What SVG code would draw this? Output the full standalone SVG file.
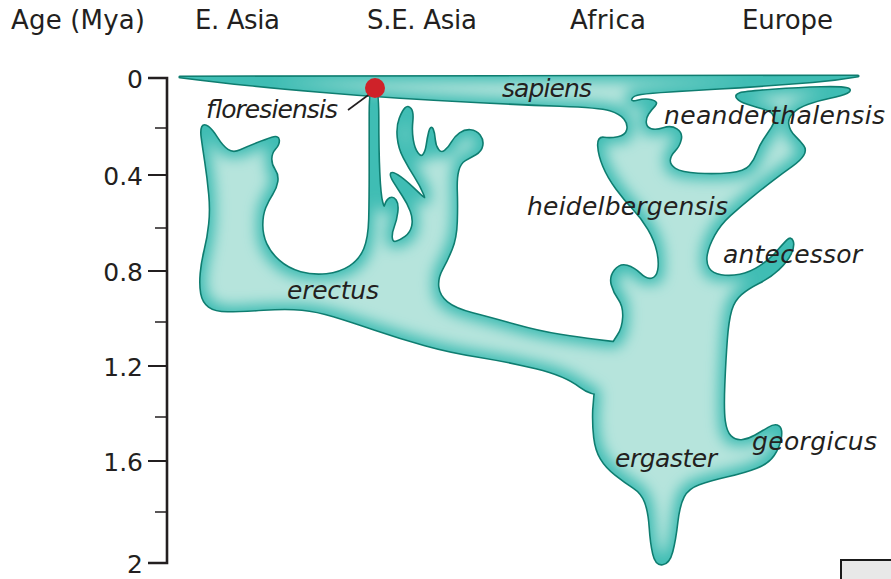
<svg xmlns="http://www.w3.org/2000/svg" xmlns:xlink="http://www.w3.org/1999/xlink" width="891" height="579" viewBox="0 0 891 579">
<style>
.hdr{font-family:"DejaVu Sans","Liberation Sans",sans-serif;font-size:26px;fill:#231f20}
.num{font-family:"DejaVu Sans","Liberation Sans",sans-serif;font-size:25px;fill:#231f20;text-anchor:end}
.sp{font-family:"DejaVu Sans","Liberation Sans",sans-serif;font-size:25px;font-style:italic;fill:#231f20}
.outl{fill:#0f7d70;stroke:#0f7d70;stroke-width:3.2;stroke-linejoin:round}
.fil{fill:#3fbdb4}
</style>
<defs>
<filter id="soft" x="-10%" y="-10%" width="120%" height="120%" color-interpolation-filters="sRGB">
<feMorphology in="SourceAlpha" operator="erode" radius="5" result="er"/>
<feGaussianBlur in="er" stdDeviation="7" result="bl"/>
<feFlood flood-color="#b6e4dc" result="fl"/>
<feComposite in="fl" in2="bl" operator="in" result="light"/>
<feComposite in="light" in2="SourceAlpha" operator="in" result="lc"/>
<feMerge><feMergeNode in="SourceGraphic"/><feMergeNode in="lc"/></feMerge>
</filter>
<path id="africa" d="M180,77 L858,76 Q835,80 812.5,81.75 Q790,83.5 765,85.25 Q740,87 715,88.5 Q690,90 670,91.25 Q650,92.5 641,93.75 Q632,95 631,99 Q630,103 637.5,101 Q645,99 651.5,100.5 Q658,102 654.5,105.5 Q651,109 648,113.5 Q645,118 645.5,123 Q646,128 651,129.5 Q656,131 663.5,128.5 Q671,126 676.5,129.5 Q682,133 680.5,139.5 Q679,146 674.5,150.5 Q670,155 669.5,160 Q669,165 675,169 Q681,173 698,174 Q715,175 730,173.5 Q745,172 750,166 Q755,160 757.5,153 Q760,146 764,140 Q768,134 772,128 Q776,122 774.5,116.5 Q773,111 764,108.5 Q755,106 747.5,103.5 Q740,101 737.5,98 Q735,95 740,93.5 Q745,92 772.5,90 Q800,88 821,87.5 Q842,87 847,88.5 Q852,90 847,92.5 Q842,95 830,97.5 Q818,100 808,103.5 Q798,107 792.5,112.5 Q787,118 788,124.5 Q789,131 794.5,136.5 Q800,142 803,146 Q806,150 803,155 Q800,160 791.5,166 Q783,172 772.5,180 Q762,188 751,197 Q740,206 730,215 Q720,224 714,235 Q708,246 706.5,254.5 Q705,263 708.5,268.5 Q712,274 721,275.5 Q730,277 740,275 Q750,273 760,266.5 Q770,260 777,252 Q784,244 787.5,240.5 Q791,237 792.5,241.5 Q794,246 790.5,253.5 Q787,261 778.5,269 Q770,277 759,282.5 Q748,288 741,294 Q734,300 731,310 Q728,320 726.5,340 Q725,360 724,385 Q723,410 724.5,421 Q726,432 730.5,436.5 Q735,441 741.5,440.5 Q748,440 755,436 Q762,432 768.5,428 Q775,424 778.5,426.5 Q782,429 780.5,438 Q779,447 773.5,455 Q768,463 756.5,467.5 Q745,472 727.5,476 Q710,480 699,484 Q688,488 683.5,496.5 Q679,505 677,522.5 Q675,540 672,551.5 Q669,563 662.5,564 Q656,565 653.5,554 Q651,543 650,527.5 Q649,512 645.5,502.5 Q642,493 633.5,487.5 Q625,482 615.5,474.5 Q606,467 601,458.5 Q596,450 594.5,437.5 Q593,425 593.5,410 Q594,395 597.5,380 Q601,365 607,354 Q613,343 618,335.5 Q623,328 623.5,317 Q624,306 619,299 Q614,292 612,284.5 Q610,277 615,270.5 Q620,264 627,266 Q634,268 640,274 Q646,280 651.5,279 Q657,278 658.5,270 Q660,262 657.5,251 Q655,240 648.5,229 Q642,218 633.5,209 Q625,200 616.5,188.5 Q608,177 603.5,166 Q599,155 598.5,146 Q598,137 604,138 Q610,139 618,137.5 Q626,136 627.5,130 Q629,124 624.5,118.5 Q620,113 610,110 Q600,107 560,105.5 Q520,104 480,102 Q440,100 400,97.5 Q360,95 320,91.5 Q280,88 250,85 Q220,82 180,77 Z"/>
<path id="asia" d="M202.5,127 Q204,124 208,127 Q212,130 217,138 Q222,146 227.5,150 Q233,154 240.5,150.5 Q248,147 257,143.5 Q266,140 272,138 Q278,136 278.5,140 Q279,144 275,148.5 Q271,153 271,159 Q271,165 274.5,170 Q278,175 277,181.5 Q276,188 272,194 Q268,200 265,207.5 Q262,215 262,225 Q262,235 266,244 Q270,253 279,261 Q288,269 300.5,272.5 Q313,276 326.5,274.5 Q340,273 350,266.5 Q360,260 364.5,249 Q369,238 369.5,219 Q370,200 370,170 Q370,140 370,113 Q370,86 374,86 Q378,86 378,118 Q378,150 379,172.5 Q380,195 382,202.5 Q384,210 385.5,205 Q387,200 390,198.5 Q393,197 395.5,200.5 Q398,204 397,212 Q396,220 393.5,226.5 Q391,233 391.5,238 Q392,243 396,242 Q400,241 405.5,237 Q411,233 412.5,226 Q414,219 411,211 Q408,203 403,195.5 Q398,188 394,181.5 Q390,175 391.5,173.5 Q393,172 400.5,177.5 Q408,183 418,193 Q428,203 424.5,194.5 Q421,186 415,176.5 Q409,167 404,157.5 Q399,148 398,137 Q397,126 400,118.5 Q403,111 405.5,108.5 Q408,106 410.5,109 Q413,112 412,121.5 Q411,131 412.5,140 Q414,149 417.5,153.5 Q421,158 423.5,155 Q426,152 427,145 Q428,138 429.5,132 Q431,126 432.5,129.5 Q434,133 434.5,139.5 Q435,146 438,150 Q441,154 445,151 Q449,148 452,142.5 Q455,137 460,133.5 Q465,130 470.5,130.5 Q476,131 479.5,135.5 Q483,140 482,145.5 Q481,151 475.5,154 Q470,157 465,160 Q460,163 458,170.5 Q456,178 456.5,191.5 Q457,205 456.5,221.5 Q456,238 451.5,249 Q447,260 442,269 Q437,278 438,287 Q439,296 447,302.5 Q455,309 472.5,313.5 Q490,318 515,325 Q540,332 560,335 Q580,338 595,340 Q610,342 625,343.5 Q640,345 640,367.5 Q640,390 617.5,394 Q595,398 580,386.5 Q565,375 536,368 Q507,361 478.5,356.5 Q450,352 425,345 Q400,338 375,329.5 Q350,321 333.5,316 Q317,311 302,309.5 Q287,308 263.5,309.5 Q240,311 227.5,311 Q215,311 209,306.5 Q203,302 201.5,293.5 Q200,285 201,273.5 Q202,262 205,250 Q208,238 209.5,224 Q211,210 209.5,194 Q208,178 205.5,161.5 Q203,145 202,137.5 Q201,130 202.5,127 Z"/>
</defs>

<g id="axis" fill="none" stroke="#231f20">
<path d="M148,78 H167 V563 H148" stroke-width="2.6"/>
<path d="M148,175 H167 M148,271 H167 M148,366 H167 M148,461 H167" stroke-width="2"/>
<path d="M155,128 H167 M155,228 H167 M155,322 H167 M155,417 H167 M155,512 H167" stroke-width="1.6"/>
</g>
<g id="axis-labels">
<text class="num" x="143" y="88">0</text>
<text class="num" x="143" y="185">0.4</text>
<text class="num" x="143" y="281">0.8</text>
<text class="num" x="143" y="376">1.2</text>
<text class="num" x="143" y="471">1.6</text>
<text class="num" x="143" y="573">2</text>
</g>
<g id="headers">
<text class="hdr" x="11" y="29" textLength="134">Age (Mya)</text>
<text class="hdr" x="195" y="29" textLength="85">E. Asia</text>
<text class="hdr" x="367" y="29" textLength="110">S.E. Asia</text>
<text class="hdr" x="570" y="29" textLength="76">Africa</text>
<text class="hdr" x="742" y="29" textLength="91">Europe</text>
</g>

<g id="tree">
<g class="outl">
<use xlink:href="#africa" href="#africa"/>
<use xlink:href="#asia" href="#asia"/>
</g>
<g class="fil" filter="url(#soft)">
<use xlink:href="#africa" href="#africa"/>
<use xlink:href="#asia" href="#asia"/>
</g>
</g>

<g id="floresiensis-marker">
<line x1="348" y1="110" x2="371" y2="93" stroke="#231f20" stroke-width="1.6"/>
<circle cx="375" cy="88" r="10" fill="#cf2229"/>
</g>

<g id="species-labels">
<text class="sp" x="205" y="118" textLength="132">floresiensis</text>
<text class="sp" x="502" y="97" textLength="90">sapiens</text>
<text class="sp" x="664" y="124" textLength="221">neanderthalensis</text>
<text class="sp" x="527" y="215" textLength="201">heidelbergensis</text>
<text class="sp" x="723" y="263" textLength="139">antecessor</text>
<text class="sp" x="287" y="299" textLength="92">erectus</text>
<text class="sp" x="615" y="467" textLength="102">ergaster</text>
<text class="sp" x="752" y="450" textLength="125">georgicus</text>
</g>

<rect id="corner-box" x="841" y="560" width="60" height="30" fill="#e8e8e8" stroke="#1a1a1a" stroke-width="2"/>
</svg>
